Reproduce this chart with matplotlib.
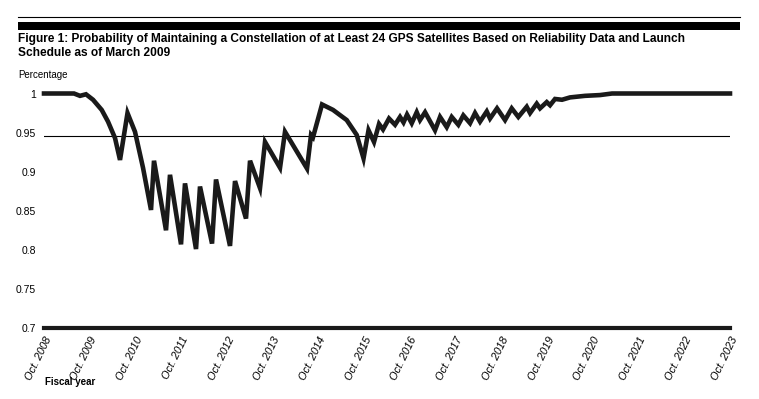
import matplotlib
matplotlib.use("Agg")
import matplotlib.pyplot as plt
from matplotlib.lines import Line2D
from matplotlib.patches import Rectangle

plt.rcParams['font.family'] = ['Liberation Sans', 'DejaVu Sans']

# years after Oct. 2008, probability
years = [0.00, 0.656, 0.787, 0.918, 1.072, 1.262, 1.400, 1.553, 1.662, 1.826,
         1.990, 2.165, 2.340, 2.405, 2.668, 2.755, 2.996, 3.083, 3.324, 3.411,
         3.674, 3.761, 4.067, 4.177, 4.417, 4.505, 4.723, 4.833, 5.161, 5.270,
         5.751, 5.839, 5.882, 6.079, 6.320, 6.619, 6.838, 6.987, 7.096, 7.216,
         7.326, 7.413, 7.544, 7.676, 7.785, 7.861, 7.938, 8.041, 8.150, 8.222,
         8.332, 8.550, 8.660, 8.806, 8.915, 9.060, 9.169, 9.316, 9.425, 9.534,
         9.681, 9.753, 9.906, 10.081, 10.227, 10.372, 10.555, 10.628, 10.774, 10.846,
         10.993, 11.065, 11.174, 11.327, 11.502, 11.830, 12.158, 12.421, 15.0]
prob = [1.000, 1.000, 0.997, 0.999, 0.992, 0.979, 0.964, 0.943, 0.915, 0.975,
        0.951, 0.905, 0.851, 0.914, 0.825, 0.896, 0.807, 0.885, 0.801, 0.881,
        0.808, 0.890, 0.805, 0.888, 0.840, 0.914, 0.879, 0.938, 0.905, 0.951,
        0.904, 0.947, 0.944, 0.986, 0.979, 0.966, 0.947, 0.917, 0.953, 0.938,
        0.961, 0.954, 0.968, 0.960, 0.970, 0.963, 0.973, 0.962, 0.976, 0.966,
        0.976, 0.953, 0.970, 0.957, 0.970, 0.960, 0.972, 0.962, 0.975, 0.964,
        0.977, 0.968, 0.981, 0.966, 0.981, 0.970, 0.983, 0.975, 0.987, 0.981,
        0.989, 0.985, 0.993, 0.992, 0.995, 0.997, 0.998, 1.000, 1.000]

tick_labels = ['Oct. %d' % y for y in range(2008, 2024)]
y_ticks = [1, 0.95, 0.9, 0.85, 0.8, 0.75, 0.7]
y_labels = ['1', '0.95', '0.9', '0.85', '0.8', '0.75', '0.7']
ref_level = 0.945

W, H = 759, 399
fig = plt.figure(figsize=(W / 100, H / 100), dpi=100)

# header rule and bar
fig.add_artist(Line2D([18 / W, 740 / W], [1 - 17 / H, 1 - 17 / H], color='black', linewidth=0.8))
fig.add_artist(Rectangle((18 / W, 1 - 30 / H), 722 / W, 8 / H, color='black', linewidth=0))
fig.text(18 / W, 1 - 33 / H,
         'Figure 1: Probability of Maintaining a Constellation of at Least 24 GPS Satellites Based on Reliability Data and Launch\n'
         'Schedule as of March 2009',
         fontsize=8.6, fontweight='bold', va='top', ha='left', linespacing=1.2)
fig.text(18 / W, 1 - 75 / H, 'Percentage', fontsize=7, va='center', ha='left')
fig.text(45 / W, 1 - 382 / H, 'Fiscal year', fontsize=7, fontweight='bold', va='center', ha='left')

ax = fig.add_axes([44 / W, 1 - 328 / H, 686 / W, 234.5 / H])
ax.plot(years, prob, color='#1a1a1a', linewidth=3.3, solid_joinstyle='miter', clip_on=False, zorder=3)
ax.axhline(ref_level, color='black', linewidth=0.8, zorder=2)

ax.set_xlim(0, 15)
ax.set_ylim(0.7, 1.0)
ax.set_xticks(range(16))
ax.set_xticklabels(tick_labels, rotation=64, ha='right', va='top', rotation_mode='anchor',
                   fontsize=7.8, style='italic')
ax.set_yticks(y_ticks)
ax.set_yticklabels(y_labels, fontsize=7.5)
ax.tick_params(axis='both', length=0)
ax.tick_params(axis='y', pad=6)
ax.tick_params(axis='x', pad=5)

for s in ['top', 'right', 'left']:
    ax.spines[s].set_visible(False)
ax.spines['bottom'].set_linewidth(3)
ax.spines['bottom'].set_color('#1a1a1a')

fig.savefig('out.png', dpi=100)
